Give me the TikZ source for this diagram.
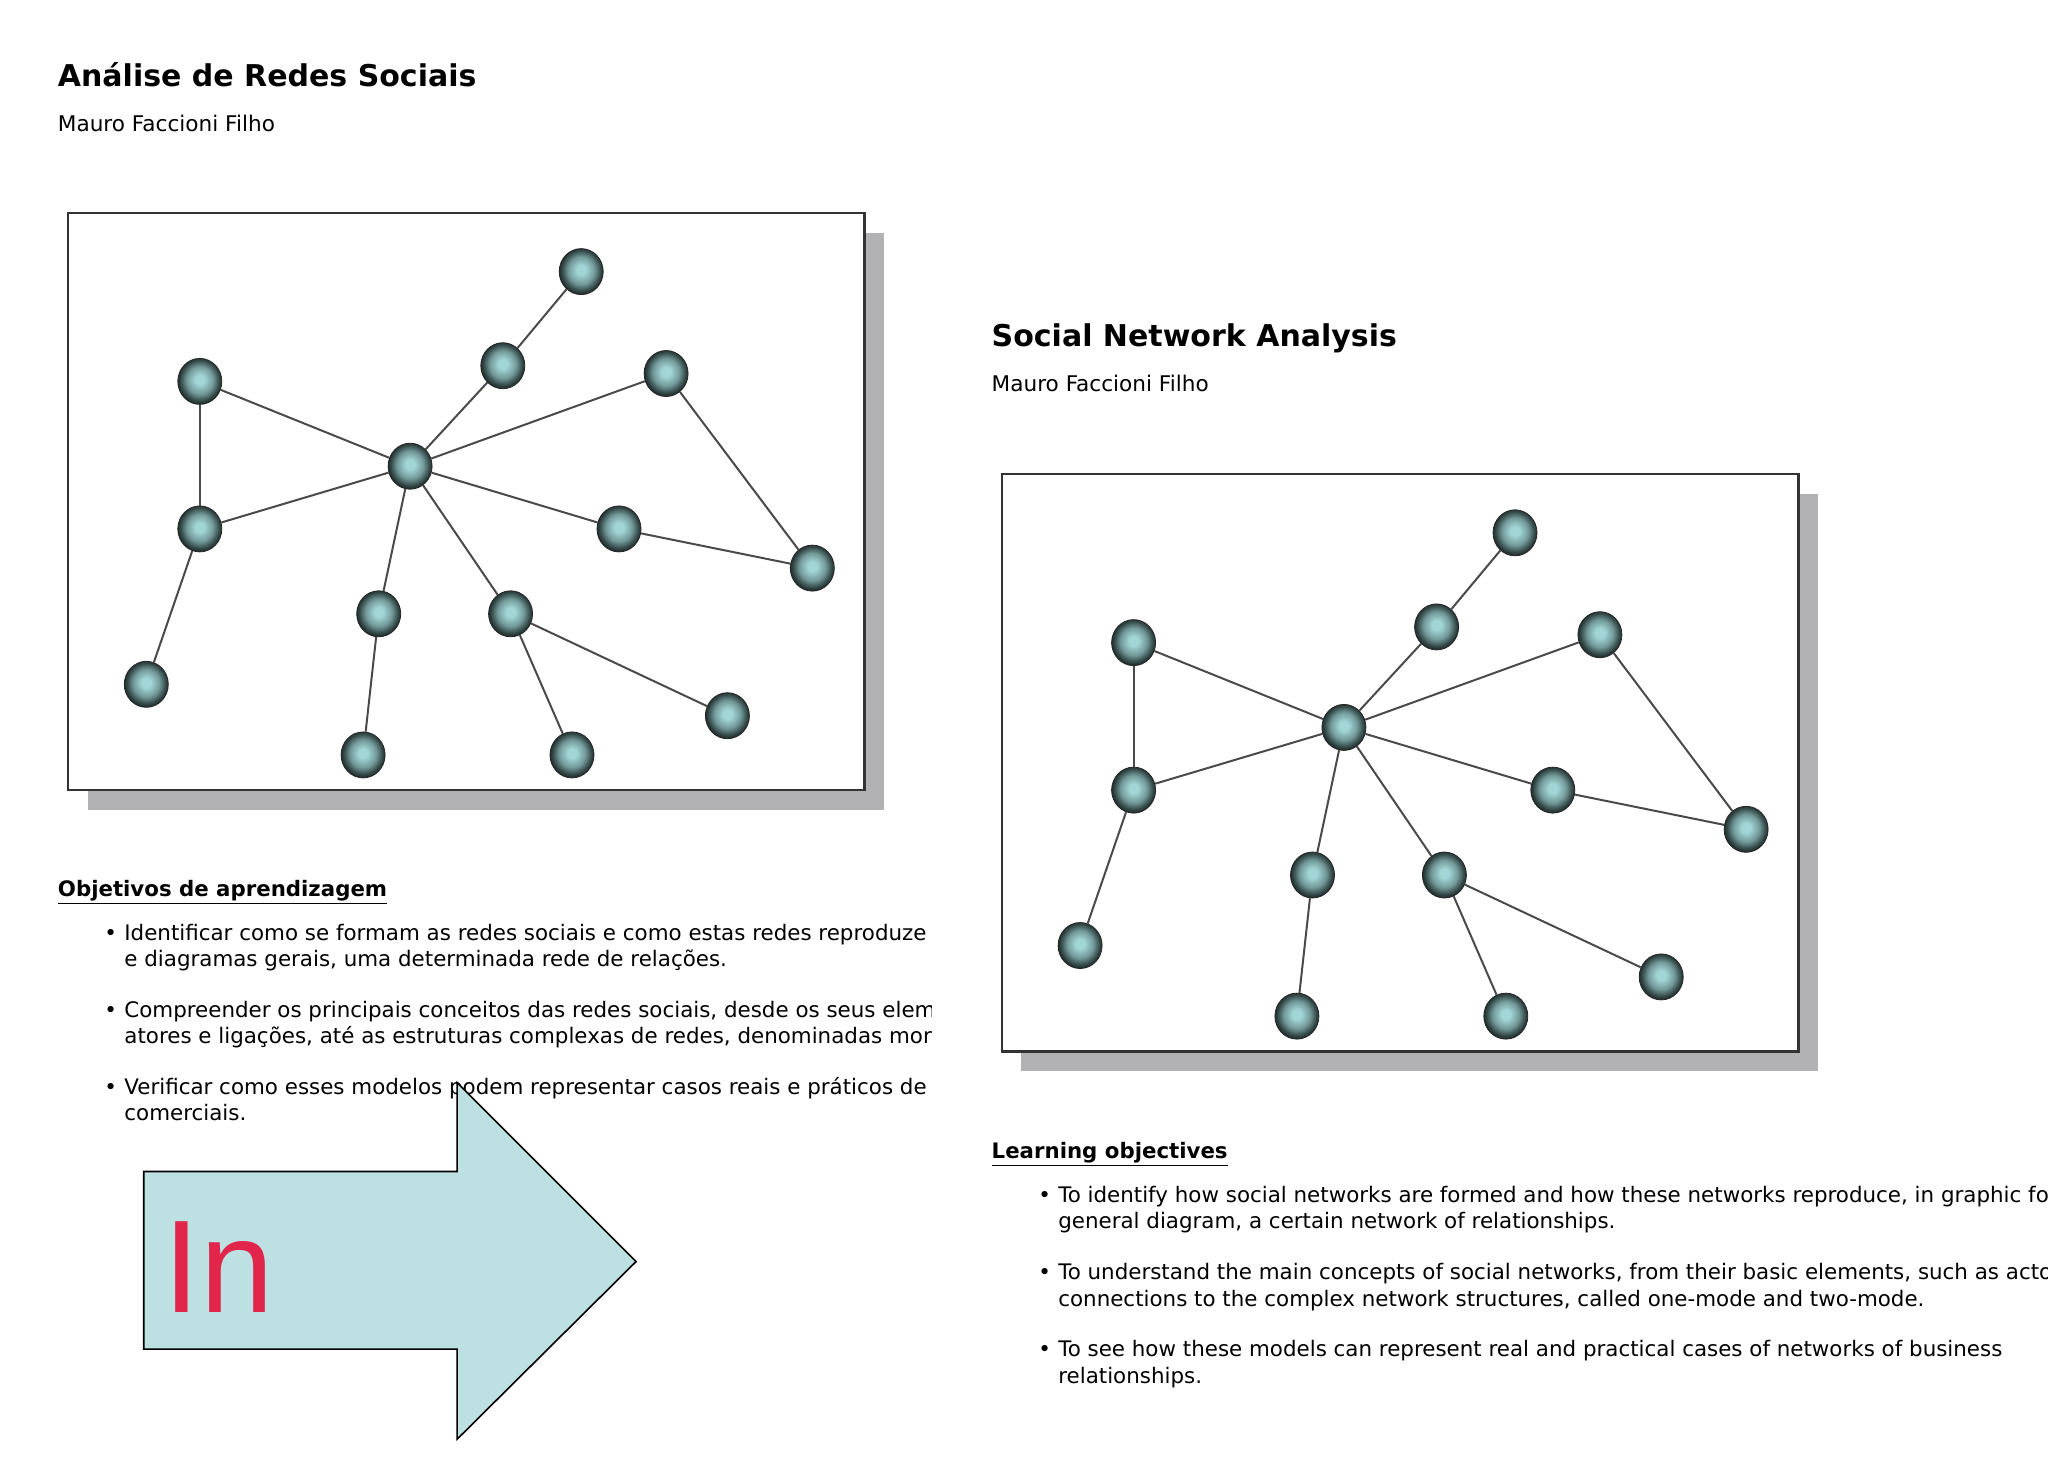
\documentclass[tikz,border=0pt]{standalone}
\usepackage{fontspec}
\setmainfont{DejaVu Sans}
\newfontfamily\arrowfont{Liberation Sans}
\usetikzlibrary{shapes.geometric}

\definecolor{ballcore}{HTML}{A2D6D6}
\definecolor{ballrim}{HTML}{1A2626}
\definecolor{edgegray}{HTML}{4A4A4A}
\definecolor{shadowgray}{HTML}{B2B2B5}
\definecolor{arrowfill}{HTML}{BDE0E2}
\definecolor{inred}{HTML}{E2264B}

\pgfdeclareradialshading{actorball}{\pgfpoint{0bp}{2bp}}{color(0bp)=(ballcore); color(5bp)=(ballcore); color(15bp)=(ballcore!65!ballrim); color(22bp)=(ballrim!80!ballcore); color(26bp)=(ballrim); color(50bp)=(ballrim)}

\tikzset{
  actor/.style={ellipse, draw=black!85, line width=0.4pt, shading=actorball, minimum width=22pt, minimum height=23pt, inner sep=0pt},
  tie/.style={draw=edgegray, line width=1pt},
  panel/.style={draw=black!80, line width=1.2pt, fill=white},
  txt/.style={anchor=base west, inner sep=0pt, font=\fontsize{10.7pt}{12pt}\selectfont},
  headline/.style={anchor=base west, inner sep=0pt, font=\bfseries\fontsize{15pt}{17pt}\selectfont},
  byline/.style={anchor=base west, inner sep=0pt, font=\fontsize{10.8pt}{12pt}\selectfont},
  objhead/.style={anchor=base west, inner sep=0pt, font=\bfseries\fontsize{10.65pt}{12pt}\selectfont}
}

\begin{document}
\begin{tikzpicture}[x=0.5pt, y=-0.5pt]
  \useasboundingbox (0,0) rectangle (2048,1479);
  \clip (0,0) rectangle (2048,1479);

  % titles
  \node[headline] (titlept) at (57.5,86.2) {Análise de Redes Sociais};
  \node[byline] (authorpt) at (57.5,131.9) {Mauro Faccioni Filho};
  \node[headline] (titleen) at (991.3,346) {Social Network Analysis};
  \node[byline] (authoren) at (991.3,391.8) {Mauro Faccioni Filho};

  % the two network panels
  \foreach \g/\dx/\dy in {l/0/0, r/933.8/261.2}{
    \begin{scope}[shift={(\dx,\dy)}]
      \fill[shadowgray] (87.5,232.5) rectangle (884.2,809.7);
      \draw[panel] (67.9,212.9) rectangle (864.6,790.1);
      \foreach \n/\x/\y in {a/581.2/271.6, b/502.8/365.7, c/666.1/373.5, d/199.8/381.4,
                            e/410.1/466.2, f/199.8/528.9, g/619.0/528.9, h/812.3/568.1,
                            i/378.7/613.8, j/510.6/613.8, k/146.3/684.3, l/363.1/754.9,
                            m/572.0/754.9, n/727.4/715.7}
        \node[actor] (\g\n) at (\x,\y) {};
      \foreach \s/\t in {a/b, b/e, d/e, d/f, f/e, c/e, c/h, e/g, g/h,
                         e/i, e/j, i/l, j/m, j/n, f/k}
        \draw[tie] (\g\s) -- (\g\t);
    \end{scope}
  }

  % objectives, portuguese (cut on the right)
  \node[objhead] (objpt) at (57.5,896) {\underline{Objetivos de aprendizagem}};
  \begin{scope}
    \clip (0,880) rectangle (931,1160);
    \node[txt] (bpt1) at (104,940.3) {•};
    \node[txt] (pt1a) at (124,940.3) {Identificar como se formam as redes sociais e como estas redes reproduze};
    \node[txt] (pt1b) at (124,966.4) {e diagramas gerais, uma determinada rede de relações.};
    \node[txt] (bpt2) at (104,1017.4) {•};
    \node[txt] (pt2a) at (124,1017.4) {Compreender os principais conceitos das redes sociais, desde os seus elem};
    \node[txt] (pt2b) at (124,1043.5) {atores e ligações, até as estruturas complexas de redes, denominadas mor};
    \node[txt] (bpt3) at (104,1094.4) {•};
    \node[txt] (pt3a) at (124,1094.4) {Verificar como esses modelos podem representar casos reais e práticos de};
    \node[txt] (pt3b) at (124,1120.5) {comerciais.};
  \end{scope}

  % objectives, english
  \node[objhead] (objen) at (991.3,1158.4) {\underline{Learning objectives}};
  \node[txt] (ben1) at (1038,1202.8) {•};
  \node[txt] (en1a) at (1057.9,1202.8) {To identify how social networks are formed and how these networks reproduce, in graphic fo};
  \node[txt] (en1b) at (1057.9,1228.9) {general diagram, a certain network of relationships.};
  \node[txt] (ben2) at (1038,1279.9) {•};
  \node[txt] (en2a) at (1057.9,1279.9) {To understand the main concepts of social networks, from their basic elements, such as acto};
  \node[txt] (en2b) at (1057.9,1306) {connections to the complex network structures, called one-mode and two-mode.};
  \node[txt] (ben3) at (1038,1356.9) {•};
  \node[txt] (en3a) at (1057.9,1356.9) {To see how these models can represent real and practical cases of networks of business};
  \node[txt] (en3b) at (1057.9,1383.1) {relationships.};

  % the big arrow
  \draw[fill=arrowfill, draw=black, line width=0.8pt]
    (143.7,1171.5) -- (457.1,1171.5) -- (457.1,1082.7) -- (636,1261.6)
    -- (457.1,1439.2) -- (457.1,1349.1) -- (143.7,1349.1) -- cycle;
  \node[anchor=base west, inner sep=0pt, text=inred, font=\arrowfont\fontsize{66pt}{70pt}\selectfont] (inlabel) at (163.5,1312.5) {In};
\end{tikzpicture}
\end{document}
